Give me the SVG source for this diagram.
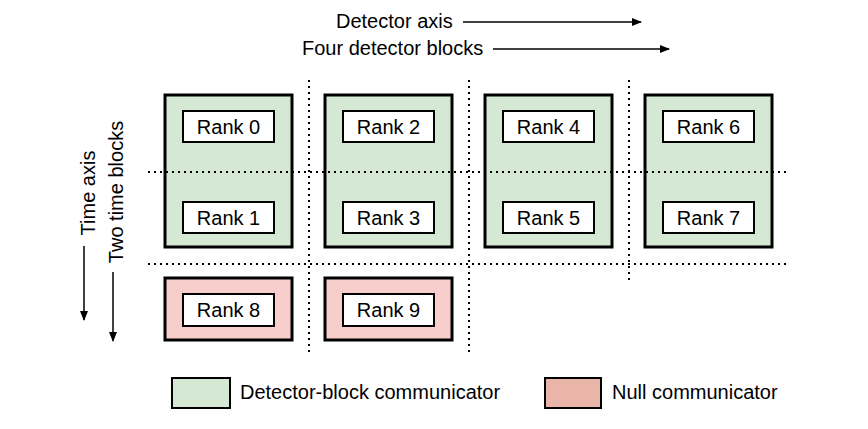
<svg xmlns="http://www.w3.org/2000/svg" width="868" height="429" viewBox="0 0 868 429">
<defs>
<marker id="ah" markerWidth="10" markerHeight="8" refX="9" refY="4" orient="auto" markerUnits="userSpaceOnUse"><path d="M0,0 L10,4 L0,8 z" fill="#000"/></marker>
<style>
text{font-family:"Liberation Sans",Arial,sans-serif;font-size:20px;fill:#000}
.g{fill:#d5e8d4;stroke:#000;stroke-width:3}
.p{fill:#f8cecc;stroke:#000;stroke-width:3}
.i{fill:#fff;stroke:#000;stroke-width:2}
.d{stroke:#000;stroke-width:2;stroke-dasharray:2,4;fill:none}
.a{stroke:#000;stroke-width:1.5;fill:none;marker-end:url(#ah)}
</style>
</defs>
<rect width="868" height="429" fill="#fff"/>
<g id="block0"><rect class="g" x="165" y="95" width="127" height="152"/></g>
<g id="block1"><rect class="g" x="325" y="95" width="127" height="152"/></g>
<g id="block2"><rect class="g" x="485" y="95" width="127" height="152"/></g>
<g id="block3"><rect class="g" x="645" y="95" width="127" height="152"/></g>
<g id="null0"><rect class="p" x="165" y="278" width="127" height="62"/></g>
<g id="null1"><rect class="p" x="325" y="278" width="127" height="62"/></g>
<g id="connectors">
<line class="d" x1="309" y1="80" x2="309" y2="356"/>
<line class="d" x1="469" y1="80" x2="469" y2="356"/>
<line class="d" x1="629" y1="80" x2="629" y2="280"/>
<line class="d" x1="148" y1="172" x2="786" y2="172"/>
<line class="d" x1="148" y1="264" x2="786" y2="264"/>
<line class="a" x1="463" y1="22" x2="641" y2="22"/>
<line class="a" x1="493" y1="49" x2="669" y2="49"/>
<line class="a" x1="84" y1="246" x2="84" y2="320"/>
<line class="a" x1="113" y1="272" x2="113" y2="341"/>
</g>
<g id="labels">
<text x="336" y="28">Detector axis</text>
<text x="302" y="55">Four detector blocks</text>
<text transform="translate(95,193) rotate(-90)" text-anchor="middle">Time axis</text>
<text transform="translate(123,192) rotate(-90)" text-anchor="middle">Two time blocks</text>
</g>
<g id="rank0"><rect class="i" x="183" y="111" width="91" height="31"/><text x="228.5" y="134" text-anchor="middle">Rank 0</text></g>
<g id="rank1"><rect class="i" x="183" y="202" width="91" height="31"/><text x="228.5" y="225" text-anchor="middle">Rank 1</text></g>
<g id="rank2"><rect class="i" x="343" y="111" width="91" height="31"/><text x="388.5" y="134" text-anchor="middle">Rank 2</text></g>
<g id="rank3"><rect class="i" x="343" y="202" width="91" height="31"/><text x="388.5" y="225" text-anchor="middle">Rank 3</text></g>
<g id="rank4"><rect class="i" x="503" y="111" width="91" height="31"/><text x="548.5" y="134" text-anchor="middle">Rank 4</text></g>
<g id="rank5"><rect class="i" x="503" y="202" width="91" height="31"/><text x="548.5" y="225" text-anchor="middle">Rank 5</text></g>
<g id="rank6"><rect class="i" x="663" y="111" width="91" height="31"/><text x="708.5" y="134" text-anchor="middle">Rank 6</text></g>
<g id="rank7"><rect class="i" x="663" y="202" width="91" height="31"/><text x="708.5" y="225" text-anchor="middle">Rank 7</text></g>
<g id="rank8"><rect class="i" x="183" y="294" width="91" height="32"/><text x="228.5" y="317" text-anchor="middle">Rank 8</text></g>
<g id="rank9"><rect class="i" x="343" y="294" width="91" height="32"/><text x="388.5" y="317" text-anchor="middle">Rank 9</text></g>
<g id="legend-green"><rect x="172" y="378" width="58" height="30" fill="#d5e8d4" stroke="#000" stroke-width="2"/><text x="240" y="399">Detector-block communicator</text></g>
<g id="legend-null"><rect x="545" y="378" width="56" height="30" fill="#e8b5a8" stroke="#000" stroke-width="2"/><text x="612" y="399">Null communicator</text></g>
</svg>
